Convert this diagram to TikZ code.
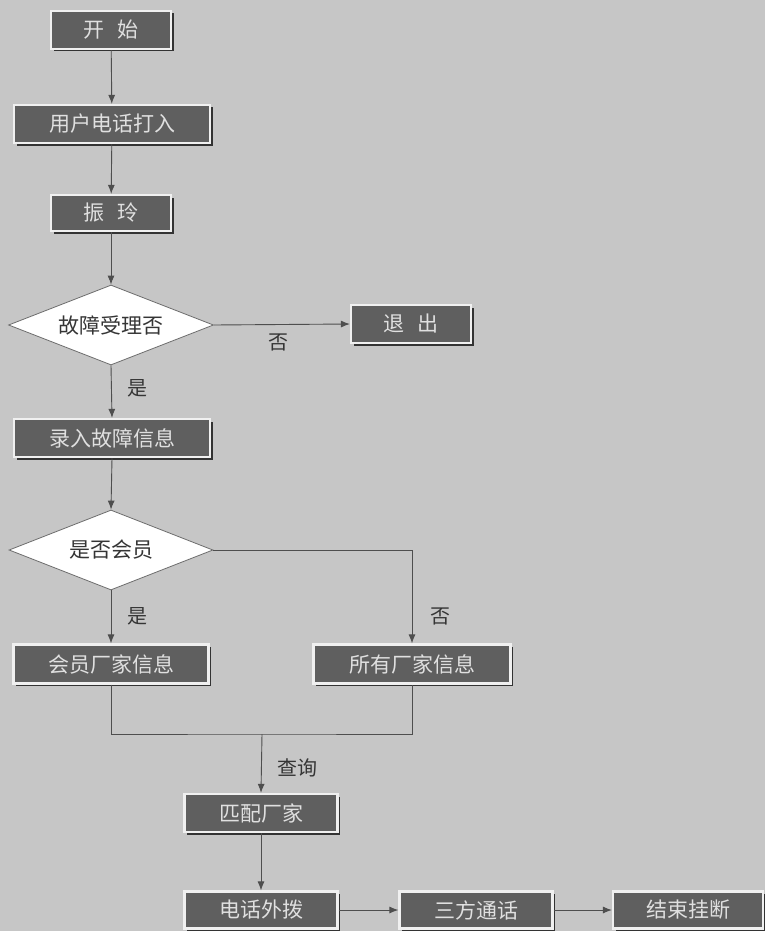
\documentclass[tikz,border=0pt]{standalone}
\usepackage{fontspec}
\setmainfont{Noto Sans CJK SC}
\usetikzlibrary{shapes.geometric,shadows,arrows.meta}
\definecolor{bgc}{HTML}{C6C6C6}
\definecolor{boxc}{HTML}{5F5F5F}
\definecolor{boxtxt}{HTML}{E0E0E0}
\definecolor{linec}{HTML}{4E4E4E}
\definecolor{labc}{HTML}{353535}
\begin{document}
\begin{tikzpicture}[x=1pt,y=-1pt,
  procbox/.style={rectangle, fill=boxc, draw=white!94!black, line width=2.2pt,
    text=boxtxt, inner sep=0pt, font=\fontsize{21}{24}\selectfont,
    drop shadow={shadow xshift=2.5pt, shadow yshift=-2.5pt, fill=black!80, opacity=1}},
  decision/.style={diamond, fill=white, draw=gray!85!black, line width=0.8pt,
    shape aspect=2.5, inner sep=0pt, text=labc, font=\fontsize{21}{24}\selectfont},
  conn/.style={draw=linec, line width=0.9pt},
  arr/.style={conn, -{Latex[length=9pt,width=7pt]}},
  lab/.style={text=labc, font=\fontsize{20}{23}\selectfont, inner sep=0pt}
]
\fill[bgc] (0,0) rectangle (765,931);
\useasboundingbox (0,0) rectangle (765,931);

\node[procbox, minimum width=120pt, minimum height=38pt] (start) at (111,30) {开\hspace{0.6em}始};
\node[procbox, minimum width=196pt, minimum height=38pt] (user) at (112,124) {用户电话打入};
\node[procbox, minimum width=120pt, minimum height=36pt] (ring) at (111,213) {振\hspace{0.6em}玲};
\node[decision, minimum width=205pt, minimum height=80pt] (d1) at (111,325) {故障受理否};
\node[procbox, minimum width=120pt, minimum height=38pt] (exit) at (411,324) {退\hspace{0.6em}出};
\node[procbox, minimum width=196pt, minimum height=38pt] (record) at (112,438) {录入故障信息};
\node[decision, minimum width=204pt, minimum height=80pt] (d2) at (111,550) {是否会员};
\node[procbox, minimum width=195pt, minimum height=39pt] (member) at (111,664) {会员厂家信息};
\node[procbox, minimum width=197pt, minimum height=39pt] (all) at (412,664) {所有厂家信息};
\node[procbox, minimum width=153pt, minimum height=38pt] (match) at (261,813) {匹配厂家};
\node[procbox, minimum width=153pt, minimum height=37pt] (dial) at (261,910) {电话外拨};
\node[procbox, minimum width=153pt, minimum height=37pt] (three) at (476,910) {三方通话};
\node[procbox, minimum width=150pt, minimum height=37pt] (finish) at (688,910) {结束挂断};

\coordinate (join) at (262,734);

\draw[arr] (start) -- (user);
\draw[arr] (user) -- (ring);
\draw[arr] (ring) -- (d1);
\draw[arr] (d1.east) -- (exit.west);
\draw[arr] (d1.south) -- (record.north);
\draw[arr] (record.south) -- (d2.north);
\draw[arr] (d2.south) -- (member.north);
\draw[arr] (d2.east) -| (all.north);
\draw[conn] (member.south) |- (join) -| (all.south);
\draw[arr] (join) -- (match.north);
\draw[arr] (match) -- (dial);
\draw[arr] (dial) -- (three);
\draw[arr] (three) -- (finish);

\node[lab] (l1) at (278,342) {否};
\node[lab] (l2) at (137,388) {是};
\node[lab] (l3) at (137,616) {是};
\node[lab] (l4) at (440,616) {否};
\node[lab] (l5) at (297,768) {查询};
\end{tikzpicture}
\end{document}
